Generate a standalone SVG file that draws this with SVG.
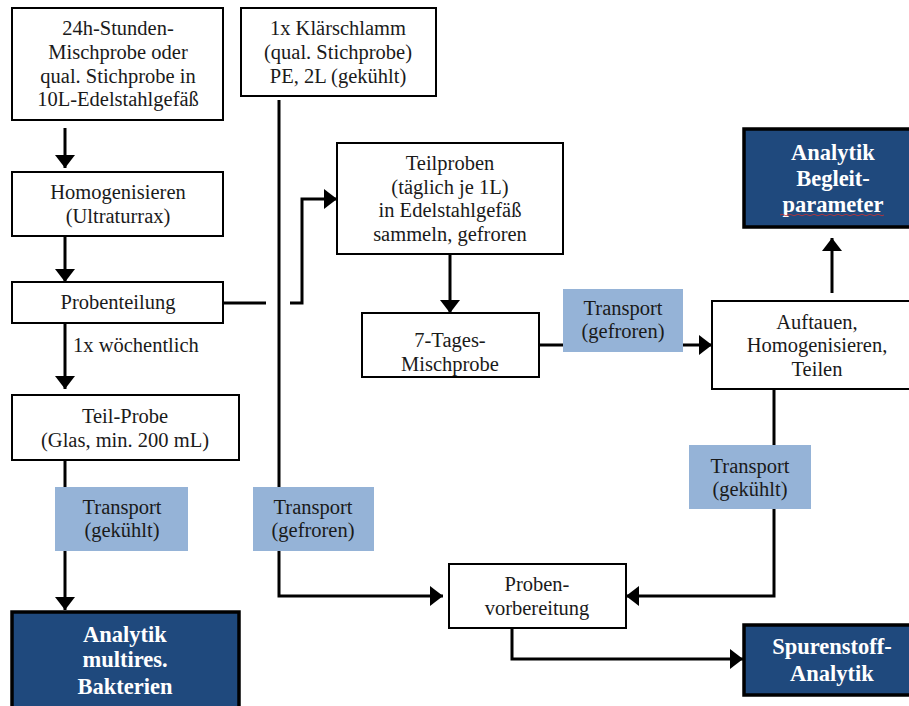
<svg xmlns="http://www.w3.org/2000/svg" width="909" height="706" viewBox="0 0 909 706">
<style>
  .box { fill: #ffffff; stroke: #000000; stroke-width: 2; }
  .dark { fill: #1F497D; stroke: #000000; stroke-width: 3.5; }
  .lbl { fill: #95B3D7; stroke: none; }
  .t { font-family: "Liberation Serif", "Times New Roman", serif; font-size: 20.5px; fill: #1a1a1a; text-anchor: middle; }
  .tl { font-family: "Liberation Serif", "Times New Roman", serif; font-size: 20.5px; fill: #1a1a1a; }
  .tb { font-family: "Liberation Serif", "Times New Roman", serif; font-size: 22.5px; font-weight: bold; fill: #ffffff; text-anchor: middle; }
  .c { fill: none; stroke: #000000; stroke-width: 3; }
</style>
<defs>
  <marker id="ah" markerUnits="userSpaceOnUse" markerWidth="20" markerHeight="22" refX="13" refY="11" orient="auto">
    <path d="M0,1 L13,11 L0,21 z" fill="#000000"/>
  </marker>
</defs>
<rect width="909" height="706" fill="#ffffff"/>

<g id="connectors">
  <path class="c" d="M65,128 V168" marker-end="url(#ah)"/>
  <path class="c" d="M65,236 V282" marker-end="url(#ah)"/>
  <path class="c" d="M65,323 V389" marker-end="url(#ah)"/>
  <path class="c" d="M223,303 H266"/>
  <path class="c" d="M290,303 H302 V199 H337" marker-end="url(#ah)"/>
  <path class="c" d="M279,100 V596 H443" marker-end="url(#ah)"/>
  <path class="c" d="M450,254 V313" marker-end="url(#ah)"/>
  <path class="c" d="M539,345 H712" marker-end="url(#ah)"/>
  <path class="c" d="M832,293 V238" marker-end="url(#ah)"/>
  <path class="c" d="M774,389 V596 H626" marker-end="url(#ah)"/>
  <path class="c" d="M512,628 V659 H743" marker-end="url(#ah)"/>
  <path class="c" d="M65,460 V610" marker-end="url(#ah)"/>
</g>

<g id="n-mischprobe">
  <rect class="box" x="12" y="8" width="211" height="112"/>
  <text class="t" x="118" y="35">24h-Stunden-</text>
  <text class="t" x="118" y="59">Mischprobe oder</text>
  <text class="t" x="118" y="83">qual. Stichprobe in</text>
  <text class="t" x="118" y="106">10L-Edelstahlgefäß</text>
</g>

<g id="n-klaerschlamm">
  <rect class="box" x="241" y="8" width="195" height="88"/>
  <text class="t" x="338" y="35">1x Klärschlamm</text>
  <text class="t" x="338" y="59">(qual. Stichprobe)</text>
  <text class="t" x="338" y="83">PE, 2L (gekühlt)</text>
</g>

<g id="n-homogenisieren">
  <rect class="box" x="12" y="172" width="211" height="64"/>
  <text class="t" x="118" y="199">Homogenisieren</text>
  <text class="t" x="118" y="223">(Ultraturrax)</text>
</g>

<g id="n-probenteilung">
  <rect class="box" x="12" y="282" width="211" height="41"/>
  <text class="t" x="118" y="309">Probenteilung</text>
</g>

<g id="l-woechentlich">
  <text class="tl" x="73" y="352">1x wöchentlich</text>
</g>

<g id="n-teilprobe">
  <rect class="box" x="12" y="395" width="227" height="65"/>
  <text class="t" x="125" y="423">Teil-Probe</text>
  <text class="t" x="125" y="447">(Glas, min. 200 mL)</text>
</g>

<g id="l-transport-gekuehlt-1">
  <rect class="lbl" x="55" y="487" width="133" height="64"/>
  <text class="t" x="122" y="514">Transport</text>
  <text class="t" x="122" y="537">(gekühlt)</text>
</g>

<g id="l-transport-gefroren-1">
  <rect class="lbl" x="253" y="487" width="121" height="64"/>
  <text class="t" x="313" y="514">Transport</text>
  <text class="t" x="313" y="537">(gefroren)</text>
</g>

<g id="n-analytik-bakterien">
  <rect class="dark" x="12" y="612" width="227" height="110"/>
  <text class="tb" x="125" y="642">Analytik</text>
  <text class="tb" x="125" y="667">multires.</text>
  <text class="tb" x="125" y="694">Bakterien</text>
</g>

<g id="n-teilproben">
  <rect class="box" x="337" y="143" width="226" height="111"/>
  <text class="t" x="450" y="170">Teilproben</text>
  <text class="t" x="450" y="194">(täglich je 1L)</text>
  <text class="t" x="450" y="217">in Edelstahlgefäß</text>
  <text class="t" x="450" y="241">sammeln, gefroren</text>
</g>

<g id="n-7tages">
  <rect class="box" x="362" y="313" width="177" height="64"/>
  <text class="t" x="450" y="347">7-Tages-</text>
  <text class="t" x="450" y="371">Mischprobe</text>
</g>

<g id="l-transport-gefroren-2">
  <rect class="lbl" x="563" y="289" width="120" height="63"/>
  <text class="t" x="623" y="315">Transport</text>
  <text class="t" x="623" y="338">(gefroren)</text>
</g>

<g id="n-auftauen">
  <rect class="box" x="712" y="301" width="210" height="88"/>
  <text class="t" x="817" y="329">Auftauen,</text>
  <text class="t" x="817" y="352">Homogenisieren,</text>
  <text class="t" x="817" y="376">Teilen</text>
</g>

<g id="n-analytik-begleit">
  <rect class="dark" x="744" y="129" width="178" height="98"/>
  <text class="tb" x="833" y="160">Analytik</text>
  <text class="tb" x="833" y="186">Begleit-</text>
  <text class="tb" x="833" y="212">parameter</text>
  <path d="M780,215 q2,-1.5 4,0 t4,0 t4,0 t4,0 t4,0 t4,0 t4,0 t4,0 t4,0 t4,0 t4,0 t4,0 t4,0 t4,0 t4,0 t4,0 t4,0 t4,0 t4,0 t4,0 t4,0 t4,0 t4,0 t4,0 t4,0 t4,0" fill="none" stroke="#d03030" stroke-width="0.8"/>
</g>

<g id="l-transport-gekuehlt-2">
  <rect class="lbl" x="689" y="445" width="122" height="64"/>
  <text class="t" x="750" y="473">Transport</text>
  <text class="t" x="750" y="496">(gekühlt)</text>
</g>

<g id="n-probenvorbereitung">
  <rect class="box" x="449" y="564" width="177" height="64"/>
  <text class="t" x="537" y="591">Proben-</text>
  <text class="t" x="537" y="615">vorbereitung</text>
</g>

<g id="n-spurenstoff">
  <rect class="dark" x="744" y="625" width="178" height="70"/>
  <text class="tb" x="832" y="654">Spurenstoff-</text>
  <text class="tb" x="832" y="681">Analytik</text>
</g>
</svg>
